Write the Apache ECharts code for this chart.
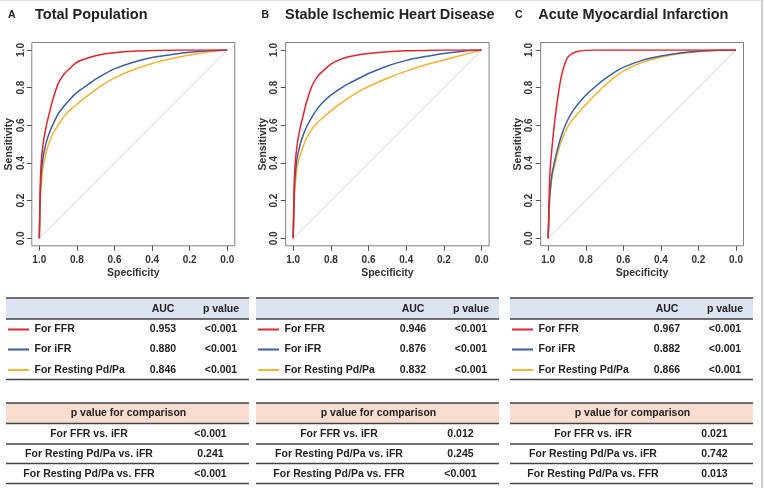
<!DOCTYPE html>
<html>
<head>
<meta charset="utf-8">
<script src="https://cdn.jsdelivr.net/npm/echarts@6/dist/echarts.min.js"></script>
<style>
  html, body { margin: 0; padding: 0; background: #fff; }
  #chart { width: 765px; height: 488px; }
</style>
</head>
<body>
<div id="chart"></div>
<script>
// ---- data ----
const panelLetters = ['A', 'B', 'C']
const panelTitles = ['Total Population', 'Stable Ischemic Heart Disease', 'Acute Myocardial Infarction']
const measures = ['For FFR', 'For iFR', 'For Resting Pd/Pa']

const specificity = [1, 0.995, 0.99, 0.98, 0.97, 0.96, 0.95, 0.93, 0.9, 0.87, 0.84, 0.8, 0.75, 0.7, 0.65, 0.6, 0.5, 0.4, 0.3, 0.2, 0.1, 0]

// Total population
const ffrA = [0, 0.28, 0.4, 0.5, 0.56, 0.61, 0.65, 0.73, 0.82, 0.87, 0.9, 0.935, 0.955, 0.97, 0.98, 0.986, 0.993, 0.997, 0.999, 1, 1, 1]
const ifrA = [0, 0.22, 0.34, 0.43, 0.48, 0.52, 0.55, 0.6, 0.66, 0.7, 0.735, 0.775, 0.81, 0.845, 0.875, 0.9, 0.935, 0.96, 0.975, 0.988, 0.996, 1]
const pdpaA = [0, 0.18, 0.28, 0.38, 0.43, 0.47, 0.5, 0.55, 0.6, 0.645, 0.678, 0.712, 0.752, 0.79, 0.823, 0.852, 0.895, 0.928, 0.953, 0.973, 0.99, 1]
// Stable ischemic heart disease
const ffrB = [0, 0.28, 0.39, 0.49, 0.55, 0.6, 0.64, 0.72, 0.81, 0.86, 0.89, 0.925, 0.95, 0.965, 0.975, 0.982, 0.991, 0.996, 0.998, 1, 1, 1]
const ifrB = [0, 0.22, 0.33, 0.42, 0.47, 0.51, 0.54, 0.59, 0.645, 0.69, 0.725, 0.76, 0.795, 0.825, 0.85, 0.875, 0.915, 0.945, 0.965, 0.982, 0.994, 1]
const pdpaB = [0, 0.18, 0.27, 0.37, 0.42, 0.45, 0.48, 0.53, 0.58, 0.615, 0.643, 0.677, 0.715, 0.75, 0.78, 0.806, 0.85, 0.888, 0.92, 0.947, 0.973, 1]
// Acute myocardial infarction
const ffrC = [0, 0.22, 0.36, 0.48, 0.58, 0.665, 0.74, 0.86, 0.955, 0.982, 0.993, 0.998, 1, 1, 1, 1, 1, 1, 1, 1, 1, 1]
const ifrC = [0, 0.16, 0.25, 0.34, 0.39, 0.435, 0.475, 0.545, 0.62, 0.675, 0.715, 0.76, 0.805, 0.845, 0.88, 0.908, 0.945, 0.968, 0.984, 0.994, 0.999, 1]
const pdpaC = [0, 0.15, 0.23, 0.32, 0.37, 0.41, 0.45, 0.515, 0.585, 0.63, 0.665, 0.71, 0.762, 0.81, 0.853, 0.888, 0.935, 0.962, 0.98, 0.991, 0.997, 1]

const diagonal = [[1, 0], [0, 1]]

const aucValues = [['0.953', '0.880', '0.846'], ['0.946', '0.876', '0.832'], ['0.967', '0.882', '0.866']]
const pValues = [['<0.001', '<0.001', '<0.001'], ['<0.001', '<0.001', '<0.001'], ['<0.001', '<0.001', '<0.001']]
const compLabels = ['For FFR vs. iFR', 'For Resting Pd/Pa vs. iFR', 'For Resting Pd/Pa vs. FFR']
const compValues = [['<0.001', '0.241', '<0.001'], ['0.012', '0.245', '<0.001'], ['0.021', '0.742', '0.013']]

// ---- layout / style ----
const sens = [[ffrA, ifrA, pdpaA], [ffrB, ifrB, pdpaB], [ffrC, ifrC, pdpaC]]
const COLORS = ['#e4222c', '#3c5ea8', '#f5b22e']
const FONT = '"Liberation Sans", Arial, sans-serif'
const boxLeft = [31.8, 285.7, 540.7]
const boxWidth = [203, 203.4, 202.8]
const boxTop = 42.5
const boxHeight = 203.3
const PAD = 7.5 // R's 4% axis expansion
const tableLeft = [6, 256, 510]
const tableWidth = 243

const labelStyle = { fontFamily: FONT, fontWeight: 'bold', fontSize: 10, color: '#333' }
const nameStyle = { fontFamily: FONT, fontWeight: 'bold', fontSize: 10.5, color: '#333' }
const axisLine = { show: false, onZero: false }
const axisTick = { show: true, inside: false, length: 5, lineStyle: { color: '#555', width: 1 } }

const grid = [], xAxis = [], yAxis = [], series = [], graphic = []

// inner grids = data area (0..1), carry the axes
panelTitles.forEach((title, i) => {
  grid.push({
    left: boxLeft[i] + PAD, top: boxTop + PAD,
    width: boxWidth[i] - 2 * PAD, height: boxHeight - 2 * PAD, show: false
  })
  xAxis.push({
    gridIndex: i, type: 'value', inverse: true, min: 0, max: 1, interval: 0.2,
    offset: PAD, axisLine, axisTick,
    axisLabel: { ...labelStyle, margin: 9, formatter: v => v.toFixed(1) },
    splitLine: { show: false },
    name: 'Specificity', nameLocation: 'middle', nameGap: 22, nameTextStyle: nameStyle
  })
  yAxis.push({
    gridIndex: i, type: 'value', min: 0, max: 1, interval: 0.2,
    offset: PAD, axisLine, axisTick,
    axisLabel: { ...labelStyle, margin: 6, rotate: 90, formatter: v => v.toFixed(1) },
    splitLine: { show: false },
    name: 'Sensitivity', nameLocation: 'middle', nameGap: 15, nameTextStyle: nameStyle
  })
})

// outer grids = plot box
panelTitles.forEach((title, i) => {
  grid.push({
    left: boxLeft[i], top: boxTop, width: boxWidth[i], height: boxHeight,
    show: true, borderColor: '#808080', borderWidth: 1, backgroundColor: 'transparent'
  })
  xAxis.push({ gridIndex: 3 + i, type: 'value', show: false })
  yAxis.push({ gridIndex: 3 + i, type: 'value', show: false })
})

panelTitles.forEach((title, i) => {
  series.push({
    type: 'line', xAxisIndex: i, yAxisIndex: i, data: diagonal, symbol: 'none',
    lineStyle: { color: '#cfcfcf', width: 1 }, silent: true, z: 1
  })
  for (let j = 2; j >= 0; j--) {
    series.push({
      name: measures[j], type: 'line', xAxisIndex: i, yAxisIndex: i,
      data: specificity.map((s, k) => [s, sens[i][j][k]]),
      symbol: 'none', smooth: 0.3, lineStyle: { color: COLORS[j], width: 1.5 }, z: 3
    })
  }

  // panel title
  graphic.push({ type: 'text', style: { text: panelLetters[i], x: [8, 261.5, 515][i], y: 15, font: 'bold 10.5px ' + FONT, fill: '#222', textVerticalAlign: 'middle', verticalAlign: 'middle' } })
  graphic.push({ type: 'text', style: { text: title, x: [35, 285, 538.3][i], y: 15, font: 'bold 14.5px ' + FONT, fill: '#222', textVerticalAlign: 'middle', verticalAlign: 'middle' } })

  // AUC table
  const L = tableLeft[i]
  const R = L + tableWidth
  const txt = (text, x, y, align) => ({
    type: 'text',
    style: { text, x, y, font: 'bold 10.5px ' + FONT, fill: '#222', textAlign: align, align, textVerticalAlign: 'middle', verticalAlign: 'middle' }
  })
  const hline = y => ({ type: 'line', shape: { x1: L, y1: y, x2: R, y2: y }, style: { stroke: '#444', lineWidth: 1.5 } })
  graphic.push({ type: 'rect', shape: { x: L, y: 298, width: tableWidth, height: 21 }, style: { fill: '#dbe4f0' } })
  graphic.push(hline(298), hline(319), hline(379.5))
  graphic.push(txt('AUC', L + 157, 309, 'center'), txt('p value', L + 215, 309, 'center'))
  const rowY = [329.5, 349.5, 370]
  measures.forEach((m, j) => {
    graphic.push({ type: 'line', shape: { x1: L + 2, y1: rowY[j], x2: L + 23, y2: rowY[j] }, style: { stroke: COLORS[j], lineWidth: 2 } })
    graphic.push(txt(m, L + 28.5, rowY[j], 'left'))
    graphic.push(txt(aucValues[i][j], L + 157, rowY[j], 'center'))
    graphic.push(txt(pValues[i][j], L + 215, rowY[j], 'center'))
  })

  // comparison table
  graphic.push({ type: 'rect', shape: { x: L, y: 403, width: tableWidth, height: 20.5 }, style: { fill: '#f9ddd0' } })
  graphic.push(hline(403), hline(423.5), hline(444), hline(463.5), hline(483.5))
  graphic.push(txt('p value for comparison', L + 122.5, 413.5, 'center'))
  const compY = [434, 454, 474]
  compLabels.forEach((c, j) => {
    graphic.push(txt(c, L + 83, compY[j], 'center'))
    graphic.push(txt(compValues[i][j], L + 204.5, compY[j], 'center'))
  })
})

// figure frame
graphic.push({ type: 'line', shape: { x1: 0, y1: 0.5, x2: 762, y2: 0.5 }, style: { stroke: '#e2e2e2', lineWidth: 1 } })
graphic.push({ type: 'line', shape: { x1: 762, y1: 0, x2: 762, y2: 488 }, style: { stroke: '#bdbdbd', lineWidth: 1.5 } })

const chart = echarts.init(document.getElementById('chart'), null, { renderer: 'canvas' })
chart.setOption({
  animation: false,
  backgroundColor: '#fff',
  textStyle: { fontFamily: FONT },
  grid, xAxis, yAxis, series, graphic
})
</script>
</body>
</html>
